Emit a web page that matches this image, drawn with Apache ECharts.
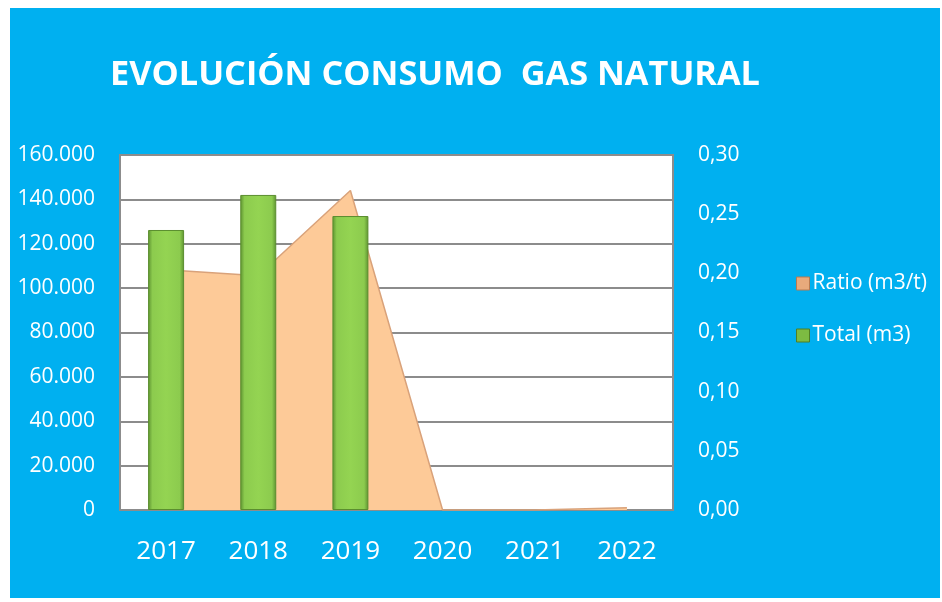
<!DOCTYPE html>
<html>
<head>
<meta charset="utf-8">
<script src="https://cdn.jsdelivr.net/npm/echarts@6/dist/echarts.min.js"></script>
<style>
html,body{margin:0;padding:0;background:#fff;}
#c{width:942px;height:602px;}
</style>
</head>
<body>
<div id="c"></div>
<script>
const categories = ['2017','2018','2019','2020','2021','2022'];
const totalM3 = [126200, 142000, 132500, null, null, null];
const ratio = [0.203, 0.198, 0.270, 0, 0, 0.002];
const leftTicks = [0, 20000, 40000, 60000, 80000, 100000, 120000, 140000, 160000];
const rightTicks = [0, 0.05, 0.10, 0.15, 0.20, 0.25, 0.30];

const chart = echarts.init(document.getElementById('c'), null, {renderer:'canvas'});
const font = '"Open Sans", "Noto Sans", sans-serif';
function fmtThousands(v){
  return String(Math.round(v)).replace(/\B(?=(\d{3})+(?!\d))/g, '.');
}
chart.setOption({
  backgroundColor: '#ffffff',
  animation: false,
  graphic: [
    {type:'rect', z:-10, shape:{x:10, y:8, width:930, height:590}, style:{fill:'#00B0F0'}},
    {type:'text', left:110, top:58, style:{text:'EVOLUCIÓN CONSUMO  GAS NATURAL', fill:'#ffffff', font:'bold 34.3px ' + font}}
  ],
  legend: {
    orient:'vertical', left:791, top:268, itemGap:31, itemWidth:13, itemHeight:13,
    textStyle:{color:'#ffffff', fontSize:21, fontFamily:font, padding:[0,0,0,-2]},
    data:[
      {name:'Ratio (m3/t)', icon:'rect', itemStyle:{color:'#E8AA7C', borderColor:'#B97A50', borderWidth:1}},
      {name:'Total (m3)', icon:'rect', itemStyle:{color:'#7DBB42', borderColor:'#4E7F25', borderWidth:1}}
    ]
  },
  grid: {left:120, right:269, top:155, bottom:92, show:true, backgroundColor:'#ffffff', borderColor:'#8c8c8c', borderWidth:2},
  xAxis: {
    type:'category', data:categories, boundaryGap:true,
    axisLine:{show:true, lineStyle:{color:'#8c8c8c', width:2}},
    axisTick:{show:false},
    axisLabel:{color:'#ffffff', fontSize:26, fontFamily:font, margin:29}
  },
  yAxis: [
    {
      type:'value', min:0, max:160000, interval:20000,
      axisLine:{show:false}, axisTick:{show:false},
      splitLine:{lineStyle:{color:'#8c8c8c', width:2}},
      axisLabel:{color:'#ffffff', fontSize:21, fontFamily:font, margin:25, formatter:fmtThousands,
        customValues: leftTicks}
    },
    {
      type:'value', min:0, max:0.30, interval:0.05,
      axisLine:{show:false}, axisTick:{show:false}, splitLine:{show:false},
      axisLabel:{color:'#ffffff', fontSize:21, fontFamily:font, margin:25, align:'left',
        formatter: v => v.toFixed(2).replace('.', ','), customValues: rightTicks}
    }
  ],
  series: [
    {
      name:'Ratio (m3/t)', type:'line', yAxisIndex:1, data:ratio, z:1,
      symbol:'none', smooth:false,
      lineStyle:{color:'#D9A27A', width:1.5},
      areaStyle:{color:'#FDCA98', opacity:1}
    },
    {
      name:'Total (m3)', type:'bar', yAxisIndex:0, data:totalM3, z:3, barWidth:36,
      itemStyle:{
        color:{type:'linear', x:0, y:0, x2:1, y2:0, colorStops:[
          {offset:0, color:'#5C9130'},
          {offset:0.12, color:'#8CCB4E'},
          {offset:0.5, color:'#94D452'},
          {offset:0.88, color:'#8CCB4E'},
          {offset:1, color:'#5C9130'}
        ]},
        borderColor:'#5B8E2F', borderWidth:1
      }
    }
  ]
});
</script>
</body>
</html>
